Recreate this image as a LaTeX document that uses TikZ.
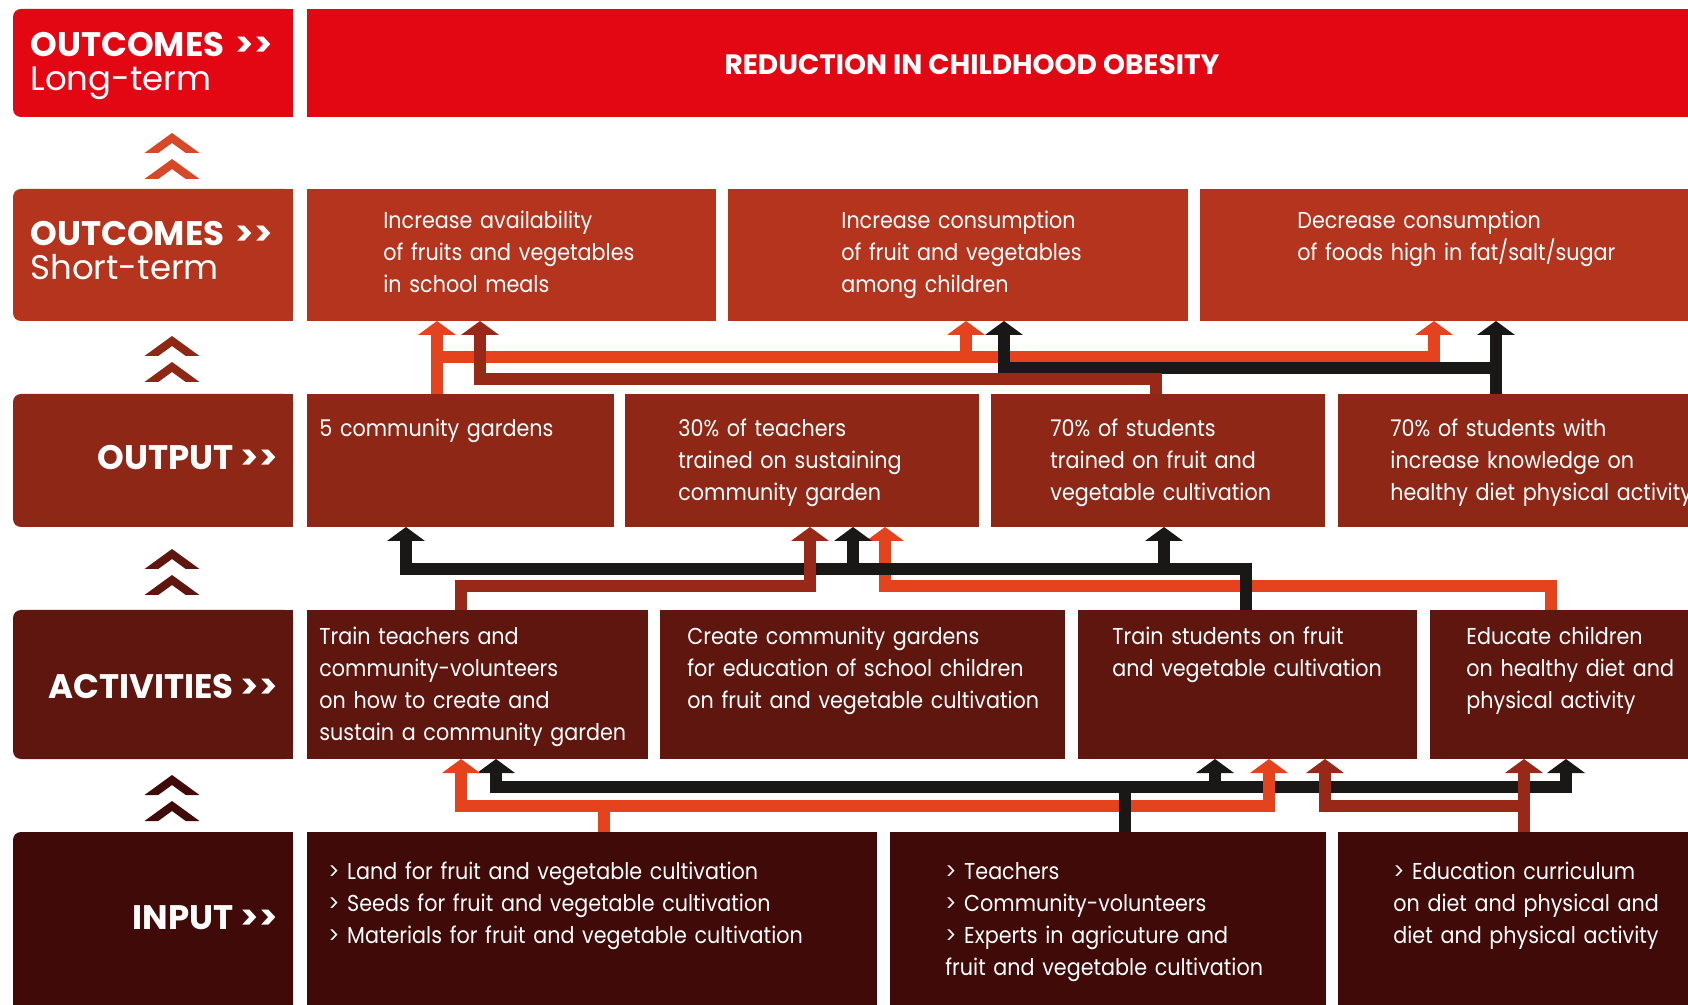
\documentclass[tikz,border=0pt]{standalone}
\usepackage{fontspec}
\setmainfont{Poppins}
\newfontfamily\cellfont[FakeStretch=0.9]{Poppins}
\usetikzlibrary{positioning, arrows.meta, fit, calc}

\definecolor{rowA}{RGB}{227,6,19}
\definecolor{rowB}{RGB}{181,52,30}
\definecolor{rowC}{RGB}{143,39,22}
\definecolor{rowD}{RGB}{94,22,14}
\definecolor{rowE}{RGB}{63,10,7}
\definecolor{chevA}{RGB}{214,72,40}
\definecolor{linkO}{RGB}{229,66,30}
\definecolor{linkR}{RGB}{152,40,24}
\definecolor{linkK}{RGB}{26,23,23}

\tikzset{
  cell/.style={inner sep=0pt, outer sep=0pt},
  txt/.style={text=white, font=\cellfont\fontsize{11.5}{16}\selectfont, align=left, text width=300pt, inner sep=0pt, anchor=base west},
  lbl/.style={text=white, font=\fontsize{17}{17}\selectfont, inner sep=0pt},
  link/.style={line width=6pt, line join=miter},
  arrowup/.style={-{Triangle[width=19pt, length=7pt, line width=0pt]}},
  arrowboth/.style={{Triangle[width=19pt, length=7pt, line width=0pt]}-{Triangle[width=19pt, length=7pt, line width=0pt]}}
}

\begin{document}
\begin{tikzpicture}[x=0.5pt, y=-0.5pt]
  \useasboundingbox (0,0) rectangle (1688,1005);
  \clip (0,0) rectangle (1688,1005);
  \fill[white] (0,0) rectangle (1688,1005);

  \foreach \n/\ya/\yb/\col in {l1/9/117/rowA, l2/189/321/rowB, l3/394/527/rowC, l4/610/759/rowD, l5/832/1020/rowE}{
    \node[cell, fill=\col, rounded corners=4pt, fit={(13,\ya) (293,\yb)}] (\n) {};
    \fill[\col] (\n.north) rectangle (\n.south east);
  }
  \foreach \yc/\col in {156/chevA, 359/rowC, 572/rowD, 798/rowE}{
    \foreach \dy in {-13,13}
      \fill[\col, shift={(172,\yc+\dy)}] (-27.5,10) -- (0,-10) -- (27.5,10) -- (13.75,10) -- (0,0) -- (-13.75,10) -- cycle;
  }

  \node[cell, fill=rowA, fit={(307,9) (1700,117)}] (goal) {};
  \node[cell, fill=rowB, fit={(307,189) (716,321)}] (s1) {};
  \node[cell, fill=rowB, fit={(728,189) (1188,321)}] (s2) {};
  \node[cell, fill=rowB, fit={(1200,189) (1700,321)}] (s3) {};
  \node[cell, fill=rowC, fit={(307,394) (614,527)}] (p1) {};
  \node[cell, fill=rowC, fit={(625,394) (979,527)}] (p2) {};
  \node[cell, fill=rowC, fit={(991,394) (1325,527)}] (p3) {};
  \node[cell, fill=rowC, fit={(1338,394) (1700,527)}] (p4) {};
  \node[cell, fill=rowD, fit={(307,610) (648,759)}] (a1) {};
  \node[cell, fill=rowD, fit={(660,610) (1065,759)}] (a2) {};
  \node[cell, fill=rowD, fit={(1078,610) (1417,759)}] (a3) {};
  \node[cell, fill=rowD, fit={(1430,610) (1700,759)}] (a4) {};
  \node[cell, fill=rowE, fit={(307,832) (877,1020)}] (i1) {};
  \node[cell, fill=rowE, fit={(890,832) (1326,1020)}] (i2) {};
  \node[cell, fill=rowE, fit={(1338,832) (1700,1020)}] (i3) {};

  \node[lbl, anchor=base west, align=left, text width=130pt] (l1t) at (30,57) {\textbf{OUTCOMES >{}>}\\Long-term};
  \node[lbl, anchor=base west, align=left, text width=130pt] (l2t) at (30,246) {\textbf{OUTCOMES >{}>}\\Short-term};
  \node[lbl, anchor=base east] (l3t) at (278,470) {\textbf{OUTPUT >{}>}};
  \node[lbl, anchor=base east] (l4t) at (278,698) {\textbf{ACTIVITIES >{}>}};
  \node[lbl, anchor=base east] (l5t) at (278,929) {\textbf{INPUT >{}>}};
  \node[text=white, font=\fontsize{14}{16}\selectfont\bfseries, inner sep=0pt, anchor=base] (goalt) at (972,75) {REDUCTION IN CHILDHOOD OBESITY};

  \node[txt] (s1t) at (383,229) {Increase availability\\of fruits and vegetables\\in school meals};
  \node[txt] (s2t) at (841,229) {Increase consumption\\of fruit and vegetables\\among children};
  \node[txt] (s3t) at (1297,229) {Decrease consumption\\of foods high in fat/salt/sugar};
  \node[txt] (p1t) at (319,437) {5 community gardens};
  \node[txt] (p2t) at (678,437) {30\% of teachers\\trained on sustaining\\community garden};
  \node[txt] (p3t) at (1050,437) {70\% of students\\trained on fruit and\\vegetable cultivation};
  \node[txt] (p4t) at (1390,437) {70\% of students with\\increase knowledge on\\healthy diet physical activity};
  \node[txt] (a1t) at (319,645) {Train teachers and\\community-volunteers\\on how to create and\\sustain a community garden};
  \node[txt] (a2t) at (687,645) {Create community gardens\\for education of school children\\on fruit and vegetable cultivation};
  \node[txt] (a3t) at (1112,645) {Train students on fruit\\and vegetable cultivation};
  \node[txt] (a4t) at (1466,645) {Educate children\\on healthy diet and\\physical activity};
  \node[txt] (i1t) at (328,879) {> Land for fruit and vegetable cultivation\\> Seeds for fruit and vegetable cultivation\\> Materials for fruit and vegetable cultivation};
  \node[txt] (i2t) at (945,879) {> Teachers\\> Community-volunteers\\> Experts in agricuture and\\fruit and vegetable cultivation};
  \node[txt] (i3t) at (1393,879) {> Education curriculum\\on diet and physical and\\diet and physical activity};

  % output -> short-term outcomes
  \draw[link, linkO, arrowup] (p1.north -| 437,0) -- (s1.south -| 437,0);
  \draw[link, linkO, arrowup] (437,357) -| (s3.south -| 1434,0);
  \draw[link, linkO, arrowup] (966,357) -- (s2.south -| 966,0);
  \draw[link, linkK, arrowup] (p4.north -| 1496,0) -- (s3.south -| 1496,0);
  \draw[link, linkK, arrowup] (1496,368) -| (s2.south -| 1004,0);
  \draw[link, linkR, arrowup] (p3.north -| 1156,0) |- (480,379) -- (s1.south -| 480,0);

  % activities -> output
  \draw[link, linkO, arrowup] (a4.north -| 1551,0) |- (885,586) -- (p2.south -| 885,0);
  \draw[link, linkK, arrowup] (a3.north -| 1246,0) |- (406,569) -- (p1.south -| 406,0);
  \draw[link, linkK, arrowup] (853,569) -- (p2.south -| 853,0);
  \draw[link, linkK, arrowup] (1164,569) -- (p3.south -| 1164,0);
  \draw[link, linkR, arrowup] (a1.north -| 461,0) |- (810,586) -- (p2.south -| 810,0);

  % input -> activities
  \draw[link, linkK, arrowboth] (a1.south -| 496,0) -- (496,787) -| (a4.south -| 1566,0);
  \draw[link, linkK, arrowup] (1215,787) -- (a3.south -| 1215,0);
  \draw[link, linkO, arrowup] (i1.north -| 604,0) |- (461,806) -- (a1.south -| 461,0);
  \draw[link, linkO, arrowup] (604,806) -| (a3.south -| 1269,0);
  \draw[link, linkK] (i2.north -| 1125,0) -- (1125,787);
  \draw[link, linkR, arrowup] (i3.north -| 1524,0) -- (a4.south -| 1524,0);
  \draw[link, linkR, arrowup] (1524,806) -| (a3.south -| 1325,0);
\end{tikzpicture}
\end{document}
